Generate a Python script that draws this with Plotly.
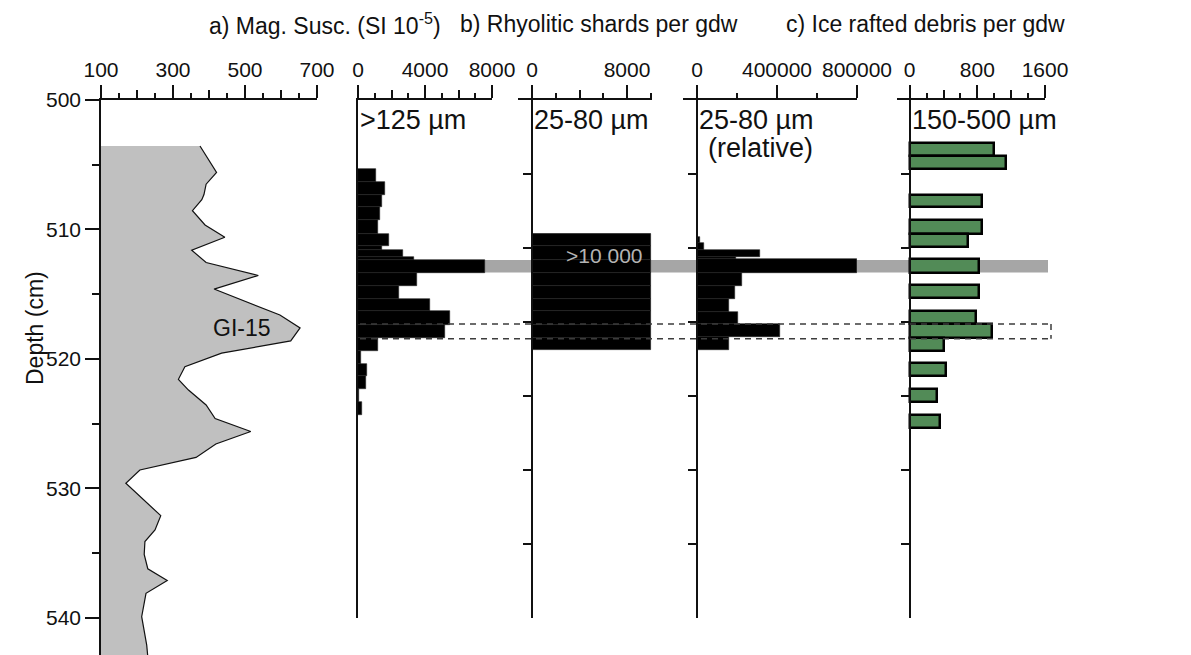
import plotly.graph_objects as go

# ---------------- data ----------------
# a) magnetic susceptibility (SI 10^-5) vs depth (cm)
MAG_DEPTH = [503.55, 505.6, 506.5, 507.3, 507.7, 508.55, 509.65, 510.6, 511.6, 512.55,
             513.55, 514.6, 516.6, 517.6, 518.6, 519.55, 520.6, 521.57, 522.4, 523.55,
             524.6, 525.6, 526.56, 527.6, 528.57, 529.6, 532.1, 533.2, 534.1, 535.1,
             536.2, 537.1, 538.1, 539.9, 542.1, 543.0]
MAG_VAL = [375, 421, 392, 386, 380, 354, 389, 444, 352, 392,
           537, 414, 597, 653, 627, 435, 333, 315, 343, 392,
           417, 516, 419, 364, 208, 169, 266, 250, 222, 220,
           230, 284, 225, 213, 227, 230]

# b) rhyolitic shards >125 um (top depth, bottom depth, shards per gdw)
B1_TOP = [505.35, 506.35, 507.3, 508.3, 509.3, 510.35, 511.3, 511.55, 512.1, 512.35,
          513.33, 514.33, 515.33, 516.33, 517.35, 518.4, 519.35, 520.4, 521.35, 522.3, 523.35]
B1_BOT = [506.35, 507.3, 508.3, 509.3, 510.35, 511.3, 511.55, 512.1, 512.35, 513.33,
          514.33, 515.33, 516.33, 517.35, 518.4, 519.35, 520.4, 521.35, 522.3, 523.35, 524.3]
B1_VAL = [1080, 1620, 1420, 1330, 1170, 1860, 1440, 2710, 3330, 7560,
          3520, 2460, 4270, 5470, 5210, 1200, 170, 540, 470, 60, 260]

# b) rhyolitic shards 25-80 um (all >10 000, drawn at the axis maximum)
B2_TOP = [510.35, 511.3, 512.35, 513.33, 514.33, 515.33, 516.33, 517.35, 518.4]
B2_BOT = [511.3, 512.35, 513.33, 514.33, 515.33, 516.33, 517.35, 518.4, 519.3]
B2_VAL = [10000, 10000, 10000, 10000, 10000, 10000, 10000, 10000, 10000]

# b) rhyolitic shards 25-80 um (relative)
B3_TOP = [510.55, 511.06, 511.58, 512.09, 512.3, 513.33, 514.33, 515.36, 516.34, 517.3, 518.32]
B3_BOT = [511.06, 511.58, 512.09, 512.3, 513.33, 514.33, 515.36, 516.34, 517.3, 518.32, 519.3]
B3_VAL = [16500, 33000, 316000, 195000, 798000, 223000, 190000, 158000, 207000, 415000, 162000]

# c) ice rafted debris 150-500 um per gdw
C_TOP = [503.3, 504.3, 507.3, 509.3, 510.35, 512.3, 514.3, 516.3, 517.3, 518.4, 520.3, 522.3, 524.3]
C_BOT = [504.3, 505.3, 508.3, 510.35, 511.35, 513.35, 515.3, 517.3, 518.4, 519.35, 521.35, 523.35, 525.35]
C_VAL = [999, 1134, 857, 857, 691, 818, 821, 782, 968, 403, 435, 324, 364]

# tick labels
A_TICKS = [100, 300, 500, 700]
B1_TICKS = [0, 4000, 8000]
B2_TICKS = [0, 8000]
B3_TICKS = [0, 400000, 800000]
C_TICKS = [0, 800, 1600]
DEPTH_TICKS = [500, 510, 520, 530, 540]

# tephra band and dashed interval (depths, cm)
TEPHRA = (512.35, 513.33)
DASHED = (517.3, 518.43)

# ---------------- layout helpers ----------------
# the page body has an 8 px margin: the figure starts at screen pixel (8, 8)
OFF = 8
SW, SH = 1191, 655                 # screen size
FW, FH = SW - OFF, SH - OFF        # figure size
ST = 100                           # screen y of plot top
T = ST - OFF                       # figure top margin
FONT = "Liberation Sans, Arial, sans-serif"
INK = "#111111"

def px(p):  # screen x -> paper x
    return (p - OFF) / FW

def xdom(p0, p1):
    return [px(p0), px(p1)]

def py(p):  # screen y -> paper y
    return 1 - (p - ST) / (FH - T)

PANEL_YDOM = [py(618), 1]
PANEL_YRANGE = [540, 500]
MAIN_YRANGE = [542.86, 500]

fig = go.Figure()

# a) Mag susc
fig.add_trace(go.Scatter(x=MAG_VAL, y=MAG_DEPTH, mode="lines", fill="tozerox",
                         fillcolor="#c0c0c0", line=dict(color="#111", width=1.2),
                         xaxis="x", yaxis="y", hoverinfo="skip", showlegend=False))

def bars(top, bot, val, ax, color, lc, lw):
    centers = [(a + b) / 2 for a, b in zip(top, bot)]
    widths = [b - a for a, b in zip(top, bot)]
    return go.Bar(x=val, y=centers, width=widths, orientation="h",
                  marker=dict(color=color, line=dict(color=lc, width=lw)),
                  xaxis="x" + ax, yaxis="y" + ax, showlegend=False, hoverinfo="skip")

fig.add_trace(bars(B1_TOP, B1_BOT, B1_VAL, "2", "#000", "#222", 0.6))
fig.add_trace(bars(B2_TOP, B2_BOT, B2_VAL, "3", "#000", "#262626", 0.8))
fig.add_trace(bars(B3_TOP, B3_BOT, B3_VAL, "4", "#000", "#222", 0.6))
fig.add_trace(bars(C_TOP, C_BOT, C_VAL, "5", "#528b57", "#000", 2.5))

common_x = dict(side="top", showline=True, linecolor=INK, linewidth=1.5,
                ticks="outside", tickcolor=INK, tickwidth=1.5, ticklen=13,
                showgrid=False, zeroline=False, fixedrange=True, automargin=False,
                tickfont=dict(family=FONT, size=21, color=INK))

XRANGES = {
    "a": [100, 700], "b1": [0, 8000], "b2": [-1180, 10100],
    "b3": [-70000, 800000], "c": [-150, 1600],
}
XDOMS = {
    "a": xdom(101, 317), "b1": xdom(358, 492), "b2": xdom(518, 652),
    "b3": xdom(683, 857), "c": xdom(897, 1045),
}

def minor(dt):
    return dict(ticks="outside", ticklen=5, tickwidth=1.5, tickcolor=INK, dtick=dt, tick0=0)

def labels(vals):
    return dict(tickvals=vals, ticktext=[str(v) for v in vals])

fig.update_layout(
    xaxis=dict(common_x, domain=XDOMS["a"], range=XRANGES["a"], anchor="y",
               minor=minor(50), **labels(A_TICKS)),
    xaxis2=dict(common_x, domain=XDOMS["b1"], range=XRANGES["b1"], anchor="y2",
                minor=minor(1000), **labels(B1_TICKS)),
    xaxis3=dict(common_x, domain=XDOMS["b2"], range=XRANGES["b2"], anchor="y3",
                minor=minor(2000), **labels(B2_TICKS)),
    xaxis4=dict(common_x, domain=XDOMS["b3"], range=XRANGES["b3"], anchor="y4",
                minor=minor(200000), **labels(B3_TICKS)),
    xaxis5=dict(common_x, domain=XDOMS["c"], range=XRANGES["c"], anchor="y5",
                minor=minor(200), **labels(C_TICKS)),
)

# medium (unlabelled) ticks drawn with overlaying axes
def medium(key, over, anchor, vals):
    return dict(overlaying=over, anchor=anchor, side="top", domain=XDOMS[key],
                range=XRANGES[key], showline=False, showgrid=False, zeroline=False,
                ticks="outside", ticklen=9, tickwidth=1.5, tickcolor=INK,
                tickvals=vals, showticklabels=False, fixedrange=True, automargin=False)

fig.update_layout(
    xaxis6=medium("a", "x", "y", [200, 400, 600]),
    xaxis7=medium("b1", "x2", "y2", [2000, 6000]),
    xaxis8=medium("b2", "x3", "y3", [4000]),
    xaxis9=medium("c", "x5", "y5", [400, 1200]),
)
# invisible anchor traces so the overlay axes are drawn
for ax, ya, xv in (("x6", "y", 100), ("x7", "y2", 0), ("x8", "y3", 0), ("x9", "y5", 0)):
    fig.add_trace(go.Scatter(x=[xv], y=[500], xaxis=ax, yaxis=ya, mode="markers",
                             marker=dict(opacity=0, size=1), hoverinfo="skip", showlegend=False))

def zero_pos(key):
    d0, d1 = XDOMS[key]
    r0, r1 = XRANGES[key]
    return d0 + (0 - r0) / (r1 - r0) * (d1 - d0)

panel_ticks = [500 + k * 40 / 7 for k in range(1, 7)]

common_y = dict(showline=True, linecolor=INK, linewidth=1.5, showgrid=False, automargin=False,
                zeroline=False, fixedrange=True, domain=PANEL_YDOM, range=PANEL_YRANGE)

fig.update_layout(
    yaxis=dict(showline=True, linecolor=INK, linewidth=1.5, showgrid=False, zeroline=False,
               domain=[0, 1], range=MAIN_YRANGE, anchor="x", fixedrange=True, automargin=False,
               ticks="outside", ticklen=14, tickwidth=1.5, tickcolor=INK,
               tickfont=dict(family=FONT, size=21, color=INK), **labels(DEPTH_TICKS),
               minor=dict(ticks="outside", ticklen=7, tickwidth=1.5, tickcolor=INK, dtick=5, tick0=500)),
    yaxis2=dict(common_y, anchor="x2", ticks="", showticklabels=False),
    yaxis3=dict(common_y, anchor="free", position=zero_pos("b2"), ticks="outside", ticklen=8,
                tickwidth=1.5, tickcolor=INK, tickvals=panel_ticks, showticklabels=False),
    yaxis4=dict(common_y, anchor="free", position=zero_pos("b3"), ticks="outside", ticklen=8,
                tickwidth=1.5, tickcolor=INK, tickvals=panel_ticks, showticklabels=False),
    yaxis5=dict(common_y, anchor="free", position=zero_pos("c"), ticks="outside", ticklen=8,
                tickwidth=1.5, tickcolor=INK, tickvals=panel_ticks, showticklabels=False),
)

# shapes: tephra band and dashed interval
band_x0, band_x1 = px(358), px(1048)
dash_x0, dash_x1 = px(360), px(1051)
dash_style = dict(color="#3c3c3c", width=1.5, dash="6px,5px")
shapes = [
    dict(type="rect", xref="paper", yref="y2", x0=band_x0, x1=band_x1,
         y0=TEPHRA[0], y1=TEPHRA[1], fillcolor="#a6a6a6", line=dict(width=0), layer="below"),
    dict(type="line", xref="paper", yref="y2", x0=dash_x0, x1=dash_x1,
         y0=DASHED[0], y1=DASHED[0], line=dash_style, layer="above"),
    dict(type="line", xref="paper", yref="y2", x0=dash_x0, x1=dash_x1,
         y0=DASHED[1], y1=DASHED[1], line=dash_style, layer="above"),
    dict(type="line", xref="paper", yref="y2", x0=dash_x1, x1=dash_x1,
         y0=DASHED[0], y1=DASHED[1], line=dash_style, layer="above"),
]

def ann(text, x, y, size, xref="paper", yref="paper", **kw):
    d = dict(text=text, x=x, y=y, xref=xref, yref=yref, showarrow=False,
             font=dict(family=FONT, size=size, color=kw.pop("color", INK)))
    d.update(kw)
    return d

title_y = py(24)
annotations = [
    ann("a) Mag. Susc. (SI 10<sup>-5</sup>)", px(207), title_y, 23, yanchor="middle"),
    ann("b) Rhyolitic shards per gdw", px(599), title_y, 23, yanchor="middle"),
    ann("c) Ice rafted debris per gdw", px(1067), title_y, 23, yanchor="middle"),
    ann("Depth (cm)", px(20), py(328), 23, textangle=-90),
    ann("GI-15", 492, 517.6, 23, xref="x", yref="y"),
    ann("&gt;125 µm", 0, 501.55, 27, xref="x2", yref="y2", xanchor="left"),
    ann("25-80 µm", 0, 501.55, 27, xref="x3", yref="y3", xanchor="left"),
    ann("25-80 µm", 0, 501.55, 27, xref="x4", yref="y4", xanchor="left"),
    ann("(relative)", 590000, 503.7, 27, xref="x4", yref="y4", xanchor="right"),
    ann("150-500 µm", 0, 501.55, 27, xref="x5", yref="y5", xanchor="left"),
    ann("&gt;10 000", B2_VAL[0], 511.97, 21, xref="x3", yref="y3", xanchor="right",
        xshift=-6, color="#b4b4b4"),
]

fig.update_layout(
    width=FW, height=FH, margin=dict(l=0, r=0, t=T, b=0, pad=0, autoexpand=False),
    paper_bgcolor="white", plot_bgcolor="rgba(0,0,0,0)",
    barmode="overlay", bargap=0, shapes=shapes, annotations=annotations,
    font=dict(family=FONT, color=INK), showlegend=False,
)

fig.write_html("out.html")
